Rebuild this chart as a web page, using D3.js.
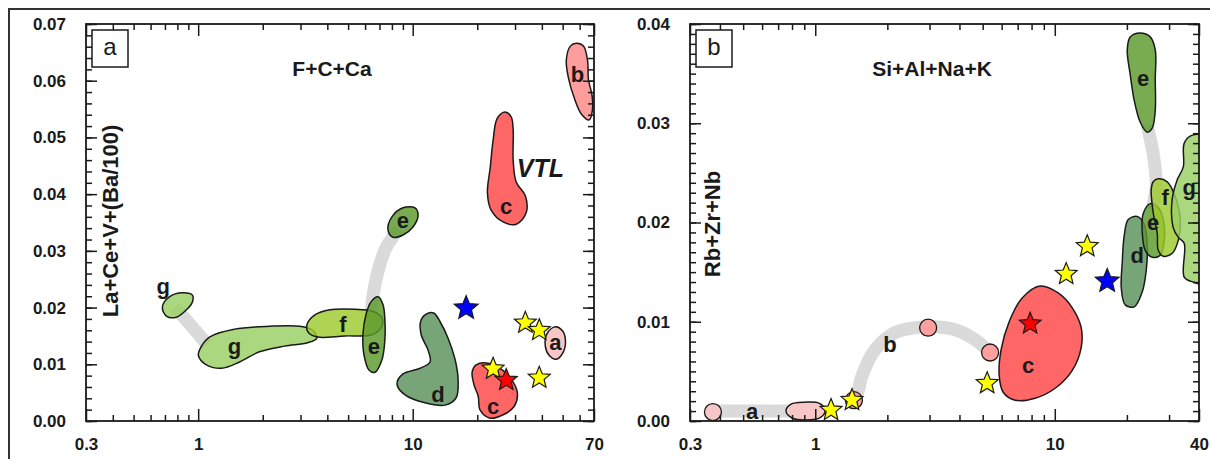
<!DOCTYPE html>
<html>
<head>
<meta charset="utf-8">
<script src="https://cdn.jsdelivr.net/npm/d3@7"></script>
<style>
body { margin: 0; background: #fff; }
svg { display: block; font-family: "Liberation Sans", Arial, sans-serif; }
</style>
</head>
<body>
<svg width="1210" height="459"></svg>
<script>
// ---- panel a : F+C+Ca vs La+Ce+V+(Ba/100)
const leftXMajor = [0.3, 1, 10, 70];
const leftXMinor = [0.4, 0.5, 0.6, 0.7, 0.8, 0.9, 2, 3, 4, 5, 6, 7, 8, 9, 20, 30, 40, 50, 60];
const leftYMajor = [0, 0.01, 0.02, 0.03, 0.04, 0.05, 0.06, 0.07];

const leftBands = [
    [[0.78, 0.0200], [0.88, 0.0178], [1.10, 0.0135]],
    [[6.40, 0.0185], [6.50, 0.0215], [6.90, 0.0265], [7.50, 0.0305], [8.60, 0.0338]]
];

const leftRegions = [
    {kind: "g", pts: [[0.681, 0.0201], [0.734, 0.0219], [0.845, 0.0226], [0.94, 0.0222], [0.94, 0.0210], [0.882, 0.0196], [0.792, 0.0183], [0.711, 0.0185]]},
    {kind: "g", pts: [[1.014, 0.0125], [1.129, 0.0148], [1.478, 0.0162], [2.154, 0.0167], [2.975, 0.0167], [3.42, 0.0160], [3.57, 0.0146], [3.24, 0.0138], [2.53, 0.0132], [1.93, 0.0122], [1.56, 0.0104], [1.285, 0.0093], [1.082, 0.0100], [1.003, 0.0115]]},
    {kind: "f", pts: [[3.21, 0.0169], [3.50, 0.0187], [4.11, 0.0196], [5.38, 0.0197], [6.45, 0.0194], [7.19, 0.0182], [7.11, 0.0164], [6.45, 0.0152], [4.83, 0.0150], [3.61, 0.0148], [3.28, 0.0155]]},
    {kind: "e", pts: [[6.89, 0.0219], [7.27, 0.0205], [7.42, 0.0178], [7.42, 0.0143], [7.19, 0.0108], [6.67, 0.0086], [6.25, 0.0090], [5.93, 0.0116], [5.86, 0.0152], [6.05, 0.0187], [6.39, 0.0210]]},
    {kind: "e", pts: [[7.67, 0.0337], [8.0, 0.0360], [9.01, 0.0376], [10.25, 0.0376], [10.59, 0.0363], [10.03, 0.0342], [9.01, 0.0328], [8.09, 0.0324]]},
    {kind: "d", pts: [[11.79, 0.0190], [10.94, 0.0178], [10.94, 0.0153], [11.79, 0.0125], [12.05, 0.0104], [10.82, 0.0093], [9.01, 0.0083], [8.45, 0.0065], [9.21, 0.0046], [11.41, 0.0032], [14.16, 0.0028], [15.94, 0.0041], [16.28, 0.0072], [15.77, 0.0108], [14.62, 0.0146], [13.42, 0.0175], [12.58, 0.0190]]},
    {kind: "c", pts: [[18.93, 0.0086], [19.76, 0.0099], [22.48, 0.0102], [25.58, 0.0093], [28.49, 0.0076], [30.72, 0.0051], [29.75, 0.0026], [26.42, 0.0011], [22.97, 0.0005], [20.63, 0.0019], [20.19, 0.0044], [19.34, 0.0063]]},
    {kind: "c", pts: [[27.0, 0.0545], [24.8, 0.0534], [23.7, 0.0495], [23.0, 0.0448], [22.3, 0.0402], [23.2, 0.0372], [26.4, 0.0351], [30.4, 0.0347], [33.8, 0.0367], [33.5, 0.0397], [30.4, 0.0421], [29.4, 0.0460], [29.4, 0.0513], [28.8, 0.0536]]},
    {kind: "b", pts: [[54.3, 0.0661], [52.0, 0.0636], [53.2, 0.0605], [56.7, 0.0569], [61.2, 0.0541], [66.5, 0.0531], [68.8, 0.0548], [68.5, 0.0575], [66.0, 0.0601], [65.3, 0.0636], [62.5, 0.0661], [58.0, 0.0666]]},
    {kind: "a", pts: [[46.2, 0.0166], [49.9, 0.0159], [51.5, 0.0143], [50.4, 0.0122], [46.7, 0.0109], [43.4, 0.0115], [41.5, 0.0132], [42.4, 0.0155]]}
];

const leftDots = [];

const leftStars = [
    [33.5, 0.0173, "yellow"], [38.9, 0.0160, "yellow"], [38.9, 0.0076, "yellow"], [23.7, 0.0092, "yellow"],
    [17.75, 0.0199, "blue"],
    [27.3, 0.0072, "red"]
];

const leftLabels = [
    ["g", 0.688, 0.0236], ["g", 1.478, 0.0130], ["f", 4.725, 0.0169], ["e", 6.595, 0.0130],
    ["e", 9.01, 0.0353], ["d", 13.13, 0.0046], ["c", 23.72, 0.0025], ["c", 27.29, 0.0377],
    ["b", 58.6, 0.0610], ["a", 46.24, 0.0138]
];

// ---- panel b : Si+Al+Na+K vs Rb+Zr+Nb
const rightXMajor = [0.3, 1, 10, 40];
const rightXMinor = [0.4, 0.5, 0.6, 0.7, 0.8, 0.9, 2, 3, 4, 5, 6, 7, 8, 9, 20, 30];
const rightYMajor = [0, 0.01, 0.02, 0.03, 0.04];

const rightBands = [
    [[0.374, 0.0010], [0.92, 0.0010]],
    [[1.45, 0.0021], [1.51, 0.0030], [1.57, 0.0046], [1.78, 0.0072], [2.15, 0.0089], [2.96, 0.0095], [3.84, 0.0092], [4.65, 0.0082], [5.37, 0.0069]],
    [[24.3, 0.0298], [25.8, 0.0268], [26.5, 0.0238], [25.5, 0.0213]]
];

const rightRegions = [
    {kind: "a", pts: [[0.755, 0.0010], [0.792, 0.0017], [0.906, 0.0019], [1.037, 0.0018], [1.099, 0.0011], [1.057, 0.0004], [0.915, 0.0001], [0.80, 0.0003]]},
    {kind: "c", pts: [[8.69, 0.0136], [10.33, 0.0129], [11.83, 0.0114], [12.89, 0.0094], [12.89, 0.0074], [11.83, 0.0051], [10.04, 0.0033], [8.28, 0.0023], [6.83, 0.0021], [6.09, 0.0029], [5.86, 0.0046], [5.97, 0.0072], [6.45, 0.0100], [7.31, 0.0124]]},
    {kind: "d", pts: [[20.26, 0.0203], [22.09, 0.0206], [23.63, 0.0198], [24.32, 0.0177], [24.09, 0.0152], [23.18, 0.0130], [21.46, 0.0115], [19.69, 0.0117], [18.95, 0.0134], [19.13, 0.0160], [19.5, 0.0187]]},
    {kind: "e", pts: [[25.03, 0.0219], [27.04, 0.0215], [28.37, 0.0203], [28.64, 0.0182], [27.56, 0.0167], [25.51, 0.0165], [23.86, 0.0172], [23.18, 0.0190], [23.4, 0.0209]]},
    {kind: "f", pts: [[27.04, 0.0244], [29.48, 0.0241], [31.84, 0.0226], [33.41, 0.0203], [32.77, 0.0182], [30.93, 0.0169], [28.37, 0.0166], [27.04, 0.0172], [26.78, 0.0189], [25.76, 0.0210], [25.27, 0.0233], [25.76, 0.0241]]},
    {kind: "g", pts: [[37.5, 0.0288], [41.3, 0.0287], [41.3, 0.0139], [37.85, 0.0140], [34.7, 0.0145], [34.7, 0.0179], [32.8, 0.0185], [31.2, 0.0195], [30.9, 0.0223], [32.45, 0.0243], [34.4, 0.0256], [34.7, 0.0280]]},
    {kind: "e", pts: [[20.65, 0.0387], [22.74, 0.0391], [25.03, 0.0387], [26.27, 0.0374], [26.27, 0.0344], [26.27, 0.0313], [25.51, 0.0295], [24.32, 0.0291], [22.74, 0.0301], [21.46, 0.0323], [20.65, 0.0349], [20.07, 0.0374]]}
];

const rightDots = [[0.374, 0.0009, "a"], [1.45, 0.0021, "dot"], [2.96, 0.0094, "dot"], [5.37, 0.0069, "dot"]];

const rightStars = [
    [1.164, 0.0011, "yellow"], [1.424, 0.0021, "yellow"], [5.22, 0.0038, "yellow"], [11.16, 0.0148, "yellow"], [13.66, 0.0176, "yellow"],
    [16.55, 0.0141, "blue"],
    [7.89, 0.0098, "red"]
];

const rightLabels = [
    ["a", 0.5445, 0.0009], ["b", 2.053, 0.0077], ["c", 7.74, 0.0055], ["d", 22.09, 0.0166],
    ["e", 25.76, 0.0200], ["f", 28.92, 0.0225], ["g", 36.43, 0.0235], ["e", 23.4, 0.0345]
];

const fills = {
    a: "#f8c6c6", b: "#ff9c9c", c: "#ff6666", d: "#5a915a",
    e: "#5b9a2b", f: "#9dcb2e", g: "#98d062", dot: "#ff9f9f"
};
const starFills = {yellow: "#ffff00", blue: "#0000ff", red: "#ff0000"};
const ink = "#1a1a1a";

const svg = d3.select("svg");

// whole-figure frame, its right and bottom edges lie off the page
svg.append("rect")
    .attr("x", 9).attr("y", 9)
    .attr("width", 1260).attr("height", 520)
    .attr("fill", "none").attr("stroke", "#333").attr("stroke-width", 2);

const starPath = (r1, r2) => {
    const p = [];
    for (let i = 0; i < 10; i++) {
        const r = i % 2 ? r2 : r1;
        const a = -Math.PI / 2 + i * Math.PI / 5;
        p.push([r * Math.cos(a), r * Math.sin(a)]);
    }
    return "M" + p.join("L") + "Z";
};

function drawPanel(cfg) {
    const g = svg.append("g").attr("transform", `translate(${cfg.left},${cfg.top})`);
    const x = d3.scaleLog().domain(cfg.xDomain).range([0, cfg.width]);
    const y = d3.scaleLinear().domain(cfg.yDomain).range([cfg.height, 0]);

    g.append("clipPath").attr("id", cfg.id)
        .append("rect").attr("width", cfg.width).attr("height", cfg.height);
    const plot = g.append("g").attr("clip-path", `url(#${cfg.id})`);

    plot.selectAll("path.band").data(cfg.bands).join("path")
        .attr("class", "band")
        .attr("d", d3.line().x(d => x(d[0])).y(d => y(d[1])).curve(d3.curveCatmullRom))
        .attr("fill", "none").attr("stroke", "#dadada").attr("stroke-width", 13);

    plot.selectAll("circle.dot").data(cfg.dots).join("circle")
        .attr("class", "dot")
        .attr("cx", d => x(d[0])).attr("cy", d => y(d[1])).attr("r", 8.5)
        .attr("fill", d => fills[d[2]]).attr("stroke", ink).attr("stroke-width", 1.3);

    const blob = d3.line().x(d => x(d[0])).y(d => y(d[1])).curve(d3.curveCatmullRomClosed.alpha(0.5));
    plot.selectAll("path.region").data(cfg.regions).join("path")
        .attr("class", "region")
        .attr("d", d => blob(d.pts))
        .attr("fill", d => fills[d.kind])
        .attr("fill-opacity", d => "defg".includes(d.kind) ? 0.82 : 1)
        .attr("stroke", ink).attr("stroke-width", 1.5);

    plot.selectAll("path.star").data(cfg.stars).join("path")
        .attr("class", "star")
        .attr("transform", d => `translate(${x(d[0])},${y(d[1])})`)
        .attr("d", d => d[2] === "blue" ? starPath(12.5, 5.6) : starPath(11.5, 5.1))
        .attr("fill", d => starFills[d[2]]).attr("stroke", ink).attr("stroke-width", 1.2)
        .attr("stroke-linejoin", "miter");

    plot.selectAll("text.lbl").data(cfg.labels).join("text")
        .attr("class", "lbl")
        .attr("x", d => x(d[1])).attr("y", d => y(d[2])).attr("dy", "0.32em")
        .attr("text-anchor", "middle")
        .attr("font-size", 22).attr("font-weight", "bold").attr("fill", ink)
        .text(d => d[0]);

    if (cfg.note) {
        g.append("text")
            .attr("x", x(cfg.note[1])).attr("y", y(cfg.note[2])).attr("dy", "0.35em")
            .attr("text-anchor", "middle")
            .attr("font-size", 25).attr("font-weight", "bold").attr("font-style", "italic")
            .attr("fill", ink).text(cfg.note[0]);
    }

    // axes: ticks point into the plot on all four sides
    const styleAxis = sel => {
        sel.select(".domain").remove();
        sel.selectAll("line").attr("stroke", ink).attr("stroke-width", 1.5);
        sel.selectAll("text").attr("font-size", 17).attr("font-weight", "bold")
            .attr("fill", ink).attr("font-family", "'Liberation Sans', Arial, sans-serif");
    };
    const yMinor = d3.range(cfg.yDomain[0], cfg.yDomain[1] + 1e-9, cfg.yMinorStep);

    g.append("g").attr("transform", `translate(0,${cfg.height})`)
        .call(d3.axisBottom(x).tickValues(cfg.xMajor).tickSize(-12).tickPadding(17).tickFormat(d => String(d)))
        .call(styleAxis);
    g.append("g").attr("transform", `translate(0,${cfg.height})`)
        .call(d3.axisBottom(x).tickValues(cfg.xMinor).tickSize(-6).tickFormat(""))
        .call(styleAxis);
    g.append("g")
        .call(d3.axisTop(x).tickValues(cfg.xMajor).tickSize(-12).tickFormat(""))
        .call(styleAxis);
    g.append("g")
        .call(d3.axisTop(x).tickValues(cfg.xMinor).tickSize(-6).tickFormat(""))
        .call(styleAxis);
    g.append("g")
        .call(d3.axisLeft(y).tickValues(cfg.yMajor).tickSize(-11).tickPadding(20).tickFormat(d3.format(".2f")))
        .call(styleAxis);
    g.append("g")
        .call(d3.axisLeft(y).tickValues(yMinor).tickSize(-6).tickFormat(""))
        .call(styleAxis);
    g.append("g").attr("transform", `translate(${cfg.width},0)`)
        .call(d3.axisRight(y).tickValues(cfg.yMajor).tickSize(-11).tickFormat(""))
        .call(styleAxis);
    g.append("g").attr("transform", `translate(${cfg.width},0)`)
        .call(d3.axisRight(y).tickValues(yMinor).tickSize(-6).tickFormat(""))
        .call(styleAxis);

    g.append("rect").attr("width", cfg.width).attr("height", cfg.height)
        .attr("fill", "none").attr("stroke", ink).attr("stroke-width", 1.8);

    // panel letter box
    g.append("rect").attr("x", 6).attr("y", 6).attr("width", 36).attr("height", 37)
        .attr("fill", "#fff").attr("stroke", ink).attr("stroke-width", 1.5);
    g.append("text").attr("x", 24).attr("y", 31)
        .attr("text-anchor", "middle").attr("font-size", 24).attr("fill", ink)
        .text(cfg.letter);

    g.append("text").attr("x", cfg.titleX).attr("y", 52)
        .attr("text-anchor", "middle").attr("font-size", 21).attr("font-weight", "bold").attr("fill", ink)
        .text(cfg.title);

    g.append("text")
        .attr("transform", `translate(${cfg.yTitlePos[0]},${cfg.yTitlePos[1]}) rotate(-90)`)
        .attr("text-anchor", "middle").attr("font-size", 22).attr("font-weight", "bold").attr("fill", ink)
        .text(cfg.yTitle);
}

drawPanel({
    id: "clipA", left: 86, top: 24, width: 508, height: 397,
    xDomain: [0.3, 70], yDomain: [0, 0.07], yMinorStep: 0.002,
    xMajor: leftXMajor, xMinor: leftXMinor, yMajor: leftYMajor,
    bands: leftBands, regions: leftRegions, dots: leftDots, stars: leftStars, labels: leftLabels,
    note: ["VTL", 39.35, 0.0446],
    letter: "a", title: "F+C+Ca", titleX: 246,
    yTitle: "La+Ce+V+(Ba/100)", yTitlePos: [32, 197]
});

drawPanel({
    id: "clipB", left: 690, top: 24, width: 509, height: 397,
    xDomain: [0.3, 40], yDomain: [0, 0.04], yMinorStep: 0.001,
    xMajor: rightXMajor, xMinor: rightXMinor, yMajor: rightYMajor,
    bands: rightBands, regions: rightRegions, dots: rightDots, stars: rightStars, labels: rightLabels,
    note: null,
    letter: "b", title: "Si+Al+Na+K", titleX: 242,
    yTitle: "Rb+Zr+Nb", yTitlePos: [30, 200]
});
</script>
</body>
</html>
